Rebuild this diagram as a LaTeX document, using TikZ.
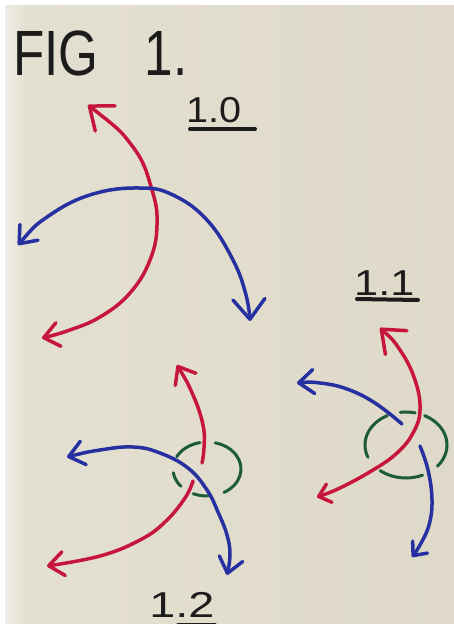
\documentclass[tikz,border=0pt]{standalone}
\usepackage{fontspec}
\newfontfamily\handfont{Liberation Sans}
\usetikzlibrary{arrows.meta}

\definecolor{paperlight}{RGB}{238,237,232}
\definecolor{paper}{RGB}{228,224,209}
\definecolor{paperdark}{RGB}{222,217,200}
\definecolor{penred}{RGB}{198,22,62}
\definecolor{penblue}{RGB}{38,48,160}
\definecolor{pengreen}{RGB}{28,92,52}
\definecolor{penblack}{RGB}{28,28,28}

\tikzset{
    bigbarb/.tip={Straight Barb[round, length=20pt, width=32pt]},
    midbarb/.tip={Straight Barb[round, length=15pt, width=24pt]},
    smallbarb/.tip={Straight Barb[round, length=11pt, width=19pt]}
}

\begin{document}
\begin{tikzpicture}[x=1pt, y=-1pt,
    pen/.style={line width=3.5pt, line cap=round, line join=round},
    redpen/.style={pen, draw=penred},
    bluepen/.style={pen, draw=penblue},
    greenpen/.style={pen, draw=pengreen, line width=3pt},
    blackpen/.style={pen, draw=penblack, line width=4pt},
    label/.style={text=penblack, inner sep=0pt, anchor=base west,
        font=\handfont\fontsize{36}{36}\selectfont}]

    % Paper
    \useasboundingbox (0,0) rectangle (454,624);
    \fill[white] (0,0) rectangle (454,624);
    \shade[left color=paperlight, right color=paper] (5,5) rectangle (25,624);
    \shade[left color=paper, right color=paperdark] (25,5) rectangle (454,624);

    % Title
    \node[label, font=\handfont\fontsize{64}{64}\selectfont, xscale=0.8] (title) at (13,75) {FIG\hspace{58pt}1.};

    % Figure 1.0
    \node[label, xscale=1.1] (lab10) at (186,122) {1.0};
    \draw[blackpen] (190,129) -- (255,129);
    \draw[redpen, bigbarb-midbarb] plot[smooth, tension=0.7] coordinates
        {(88,105) (133,147) (152,190) (157,225) (150,260) (130,293) (100,317) (67,331) (42,338)};
    \draw[bluepen, midbarb-bigbarb] plot[smooth, tension=0.7] coordinates
        {(18,245) (50,215) (93,194) (140,188) (173,195) (207,220) (233,260) (246,295) (250,321)};

    % Figure 1.1
    \node[label, xscale=1.2] (lab11) at (354,295) {1.1};
    \draw[blackpen] (357,299) -- (418,300);
    \coordinate (k11) at (406,445);
    \foreach \a/\b in {262/283, 297/400, 66/129, 158/243}
        \draw[greenpen] (k11) ++(\a:41 and 33) arc[start angle=\a, end angle=\b, x radius=41, y radius=33];
    \draw[bluepen, midbarb-] plot[smooth, tension=0.7] coordinates
        {(297,383) (320,383) (347,389) (375,403) (402,424)};
    \draw[bluepen, -smallbarb] plot[smooth, tension=0.7] coordinates
        {(420,446) (428,470) (432,500) (429,525) (420,545) (412,557)};
    \draw[redpen, bigbarb-smallbarb] plot[smooth, tension=0.7] coordinates
        {(380,328) (400,350) (415,380) (420,410) (413,433) (397,453) (373,470) (340,488) (317,497)};

    % Figure 1.2
    \node[label, xscale=1.3] (lab12) at (149,617) {1.2};
    \draw[blackpen] (178,625) -- (215,625);
    \coordinate (k12) at (207,469);
    \foreach \a/\b in {207/258, 284/420, 88/114, 140/172}
        \draw[greenpen] (k12) ++(\a:34 and 27) arc[start angle=\a, end angle=\b, x radius=34, y radius=27];
    \draw[redpen, midbarb-] plot[smooth, tension=0.7] coordinates
        {(177,365) (193,395) (203,425) (204,448) (202,463)};
    \draw[redpen, -midbarb] plot[smooth, tension=0.7] coordinates
        {(193,481) (185,498) (165,522) (140,540) (100,556) (47,566)};
    \draw[bluepen, midbarb-midbarb] plot[smooth, tension=0.7] coordinates
        {(67,457) (100,450) (133,447) (160,453) (188,468) (207,490) (218,512) (227,535) (230,555) (227,575)};
\end{tikzpicture}
\end{document}
